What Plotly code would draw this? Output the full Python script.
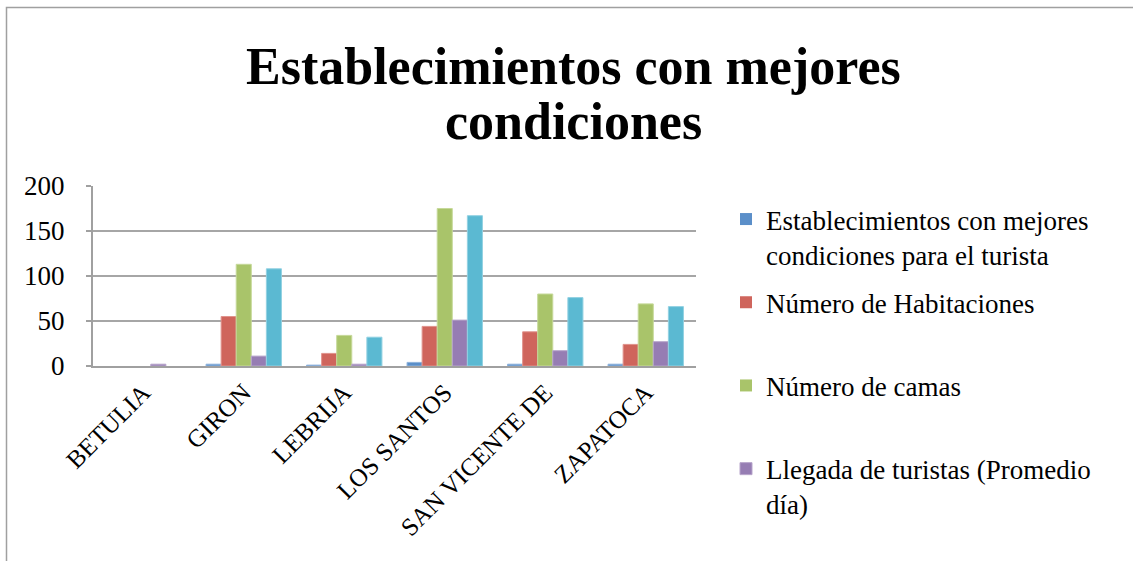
import plotly.graph_objects as go

# Municipios y series del gráfico
municipios = ["BETULIA", "GIRON", "LEBRIJA", "LOS SANTOS", "SAN VICENTE DE", "ZAPATOCA"]

establecimientos = [0, 2, 1, 4, 2, 2]
habitaciones = [0, 55, 14, 44, 38, 24]
camas = [0, 113, 34, 175, 80, 69]
llegada_turistas = [2, 11, 2, 51, 17, 27]
capacidad_adicional = [0, 108, 32, 167, 76, 66]

series_nombres = [
    "Establecimientos con mejores<br>condiciones para el turista",
    "Número de Habitaciones<br>\u00a0",
    "Número de camas<br>\u00a0",
    "Llegada de turistas (Promedio<br>día)",
    "Serie 5",
]
series_valores = [establecimientos, habitaciones, camas, llegada_turistas, capacidad_adicional]
series_colores = ["#5B8FC9", "#CF655C", "#A9C46A", "#967DB3", "#5BB9D2"]
series_bordes = ["#8FB3DC", "#E0938C", "#C6D99A", "#B7A5CB", "#92D1E2"]
series_leyenda = [True, True, True, True, False]

W, H = 1133, 561
L, R, T, B = 93, 696, 186, 366  # plot area in pixels

def px_x(px):
    return (px - L) / (R - L)

def px_y(py):
    return (B - py) / (B - T)

SERIF = "Liberation Serif"

fig = go.Figure()
for i, (nombre, vals, col, borde, leg) in enumerate(
        zip(series_nombres, series_valores, series_colores, series_bordes, series_leyenda)):
    fig.add_trace(go.Bar(
        x=municipios, y=vals, name=nombre,
        marker=dict(color=col, line=dict(color=borde, width=[1 if v > 0 else 0 for v in vals])),
        showlegend=leg, legendgroup=f"g{i}",
    ))

fig.update_layout(
    width=W, height=H, autosize=False,
    margin=dict(l=L, r=W - R, t=T, b=H - B, pad=0),
    paper_bgcolor="white", plot_bgcolor="white",
    barmode="group", bargap=0.25, bargroupgap=0,
    font=dict(family=SERIF, size=27, color="black"),
    showlegend=True,
    legend=dict(
        xref="container", yref="container",
        x=726 / W, xanchor="left", y=1 - 195 / H, yanchor="top",
        font=dict(family=SERIF, size=27, color="black"),
        traceorder="grouped", tracegroupgap=10, valign="top",
        bgcolor="rgba(0,0,0,0)", borderwidth=0, maxheight=600,
    ),
    xaxis=dict(
        type="category", tickangle=-45, showgrid=False,
        showline=True, linecolor="#A0A0A0", linewidth=2,
        ticks="", tickfont=dict(family=SERIF, size=25, color="black"),
    ),
    yaxis=dict(
        range=[0, 200], tickvals=[0, 50, 100, 150, 200],
        showgrid=True, gridcolor="#A6A6A6", gridwidth=2,
        showline=True, linecolor="#A0A0A0", linewidth=2,
        ticks="outside", ticklen=5, tickcolor="#A0A0A0", tickwidth=2,
        ticklabelstandoff=16, zeroline=False,
        tickfont=dict(family=SERIF, size=27, color="black"),
    ),
)

# Título en dos líneas
fig.add_annotation(text="<b>Establecimientos con mejores</b>", xref="paper", yref="paper",
                   x=px_x(573.5), y=px_y(67), xanchor="center", yanchor="middle",
                   showarrow=False, font=dict(family=SERIF, size=52, color="black"))
fig.add_annotation(text="<b>condiciones</b>", xref="paper", yref="paper",
                   x=px_x(573.5), y=px_y(122), xanchor="center", yanchor="middle",
                   showarrow=False, font=dict(family=SERIF, size=52, color="black"))

# Marco exterior del gráfico
fig.add_shape(type="rect", xref="paper", yref="paper",
              x0=px_x(6.5), x1=px_x(1150), y0=px_y(580), y1=px_y(7.5),
              line=dict(color="#A0A0A0", width=1.5), fillcolor="rgba(0,0,0,0)", layer="below")

fig.write_html("out.html")
